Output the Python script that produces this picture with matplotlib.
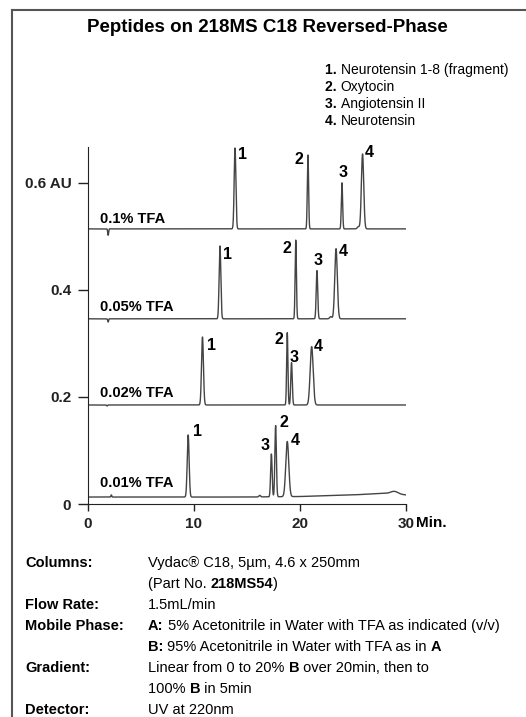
import numpy as np
import matplotlib
matplotlib.use('Agg')
import matplotlib.pyplot as plt
from matplotlib.lines import Line2D

plt.rcParams['font.family'] = ['Liberation Sans', 'DejaVu Sans']

# data
traces = ['0.1% TFA', '0.05% TFA', '0.02% TFA', '0.01% TFA']
baselines = [0.514, 0.346, 0.185, 0.013]
# retention times (min) of peaks 1..4
ret_times = [
    [13.87, 20.75, 23.96, 25.90],
    [12.45, 19.60, 21.60, 23.40],
    [10.80, 18.80, 19.20, 21.10],
    [9.45, 17.70, 17.30, 18.80],
]
# peak heights (AU above baseline)
heights = [
    [0.151, 0.138, 0.086, 0.140],
    [0.136, 0.147, 0.090, 0.131],
    [0.127, 0.135, 0.079, 0.109],
    [0.116, 0.133, 0.080, 0.103],
]
# peak widths (sigma, min)
widths = [
    [0.08, 0.06, 0.06, 0.11],
    [0.08, 0.06, 0.07, 0.12],
    [0.09, 0.06, 0.07, 0.14],
    [0.09, 0.07, 0.07, 0.14],
]
# small features: injection marks, shoulders, bumps (time, height, sigma)
extras = [
    [(1.9, -0.012, 0.04), (25.5, 0.004, 0.1)],
    [(1.9, -0.006, 0.04), (22.9, 0.004, 0.1)],
    [(1.8, -0.002, 0.04)],
    [(2.2, 0.004, 0.04), (16.2, 0.003, 0.08), (28.9, 0.005, 0.35)],
]
# baseline drift of the 0.01% TFA run (time, offset)
drift_t = [0, 15, 20, 25, 28, 30]
drift_v = [0.0, 0.0, 0.001, 0.004, 0.007, 0.004]

peak_names = ['Neurotensin 1-8 (fragment)', 'Oxytocin', 'Angiotensin II', 'Neurotensin']

# label offsets in pixels from peak tops
label_off = [
    [(7, -6), (-9, -4), (1, 10), (7, 1)],
    [(8, -8), (-9, -8), (1, 10), (7, -3)],
    [(9, -8), (-8, -7), (3, 5), (7, 0)],
    [(9, 3), (8, 3), (-6, 9), (8, 1)],
]
trace_label_y = [0.533, 0.368, 0.207, 0.039]

W, H = 526, 717
fig = plt.figure(figsize=(W / 100, H / 100), dpi=100)
ax = fig.add_axes([88 / W, (H - 504) / H, 318 / W, 357 / H])

t = np.linspace(0, 30, 6001)
line_col = '#444444'
for i, name in enumerate(traces):
    y = np.full_like(t, baselines[i])
    if i == 3:
        y = y + np.interp(t, drift_t, drift_v)
    for rt, h, s in zip(ret_times[i], heights[i], widths[i]):
        y = y + h * np.exp(-0.5 * ((t - rt) / s) ** 2)
    for rt, h, s in extras[i]:
        y = y + h * np.exp(-0.5 * ((t - rt) / s) ** 2)
    ax.plot(t, y, color=line_col, lw=1.0)
    for k in range(4):
        top = baselines[i] + heights[i][k]
        ax.annotate(str(k + 1), xy=(ret_times[i][k], top),
                    xytext=label_off[i][k], textcoords='offset pixels',
                    ha='center', va='center', fontsize=11.5, fontweight='bold')
    ax.text(1.1, trace_label_y[i], name, ha='left', va='center',
            fontsize=10.5, fontweight='bold')

ax.set_xlim(0, 30)
ax.set_ylim(0, 0.667)
ax.set_xticks([0, 10, 20, 30])
ax.set_xticklabels(['0', '10', '20', '30'])
ax.set_yticks([0, 0.2, 0.4, 0.6])
ax.set_yticklabels(['0', '0.2', '0.4', '0.6 AU'])
for lab in ax.get_xticklabels() + ax.get_yticklabels():
    lab.set_fontweight('bold')
    lab.set_fontsize(11)
ax.tick_params(axis='y', length=7, width=1, pad=5, colors='#222222')
ax.tick_params(axis='x', length=5, width=1, pad=4, colors='#222222')
ax.spines['top'].set_visible(False)
ax.spines['right'].set_visible(False)
ax.spines['left'].set_color('#222222')
ax.spines['bottom'].set_color('#222222')
ax.patch.set_alpha(0)
ax.annotate('Min.', xy=(30, 0), xytext=(10, -19), textcoords='offset pixels',
            ha='left', va='center', fontsize=11, fontweight='bold',
            annotation_clip=False)

# outer frame
fig.add_artist(Line2D([12 / W, 12 / W], [0, 1 - 10 / H], color='#555555', lw=1.5))
fig.add_artist(Line2D([12 / W, 1], [1 - 10 / H, 1 - 10 / H], color='#555555', lw=1.5))

fig.text(267 / W, 1 - 28 / H, 'Peptides on 218MS C18 Reversed-Phase',
         ha='center', va='center', fontsize=13.5, fontweight='bold')

renderer = fig.canvas.get_renderer()


def seg_text(x, y, parts, size):
    # draw text made of bold / regular pieces, x y in pixels from top-left
    for s, bold in parts:
        txt = fig.text(x / W, 1 - y / H, s, ha='left', va='center', fontsize=size,
                       fontweight='bold' if bold else 'normal')
        x += txt.get_window_extent(renderer).width


for k, nm in enumerate(peak_names):
    seg_text(325, 70 + 17 * k, [('%d. ' % (k + 1), True), (nm, False)], 10)

info_rows = [
    ('Columns:', [('Vydac® C18, 5µm, 4.6 x 250mm', False)]),
    ('', [('(Part No. ', False), ('218MS54', True), (')', False)]),
    ('Flow Rate:', [('1.5mL/min', False)]),
    ('Mobile Phase:', [('A:', True), (' 5% Acetonitrile in Water with TFA as indicated (v/v)', False)]),
    ('', [('B:', True), (' 95% Acetonitrile in Water with TFA as in ', False), ('A', True)]),
    ('Gradient:', [('Linear from 0 to 20% ', False), ('B', True), (' over 20min, then to', False)]),
    ('', [('100% ', False), ('B', True), (' in 5min', False)]),
    ('Detector:', [('UV at 220nm', False)]),
]
for r, (head, parts) in enumerate(info_rows):
    yy = 563 + 21 * r
    if head:
        seg_text(25, yy, [(head, True)], 10.5)
    seg_text(148, yy, parts, 10.5)

fig.savefig('out.png', dpi=100)
